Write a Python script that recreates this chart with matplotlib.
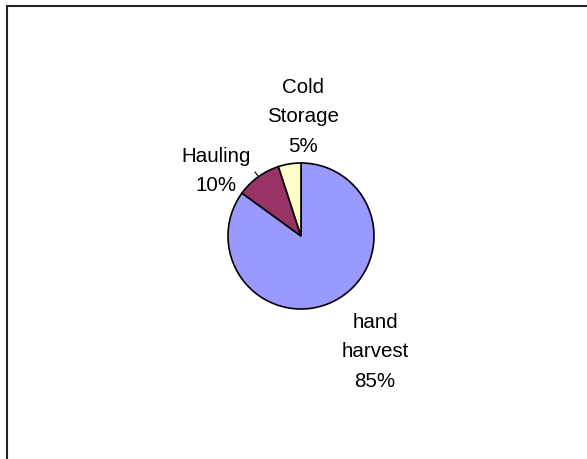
import matplotlib
matplotlib.use("Agg")
import matplotlib.pyplot as plt
from matplotlib.patches import Rectangle

categories = ["hand\nharvest", "Hauling", "Cold\nStorage"]
shares = [85, 10, 5]
colors = ["#9999FF", "#993366", "#FFFFCC"]

W, H = 587, 460
fig = plt.figure(figsize=(W / 100, H / 100), dpi=100)
ax = fig.add_axes([0, 0, 1, 1])

# chart area border (runs off the right and bottom edges)
ax.add_patch(Rectangle((6.5, -10), W + 20, H - 6.5 + 10, fill=False,
                       edgecolor="#222222", linewidth=1.5))

cx, cy, r = 301, 460 - 237, 73
wedges, _ = ax.pie(shares, colors=colors, startangle=90, counterclock=False,
                   center=(cx, cy), radius=r, frame=True,
                   wedgeprops=dict(edgecolor="black", linewidth=1.2))
ax.set_xlim(0, W)
ax.set_ylim(0, H)
ax.set_axis_off()

# label offsets from the pie centre, in pixels
offsets = [(74, -115), (-85, 66), (2, 120)]
for name, val, (dx, dy) in zip(categories, shares, offsets):
    ax.text(cx + dx, cy + dy, f"{name}\n{val}%", ha="center", va="center",
            fontsize=14.8, family="Liberation Sans", linespacing=1.72,
            color="black")

# short leader for the Hauling label
ax.plot([255, 258], [460 - 173, 460 - 177], color="black", linewidth=0.8)

fig.savefig("out.png", dpi=100)
